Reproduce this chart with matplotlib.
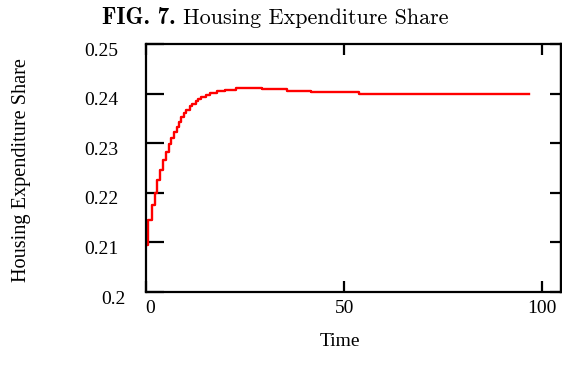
import matplotlib
matplotlib.use("Agg")
import matplotlib.pyplot as plt
from matplotlib.transforms import ScaledTranslation
from matplotlib import font_manager

# ---- data (step function) ----
time = [0, 0.5, 1.4, 2.2, 2.9, 3.6, 4.3, 5.0, 5.8, 6.4, 7.1, 7.7, 8.3, 8.9,
        9.6, 10.2, 11.0, 11.7, 12.5, 13.1, 14.0, 15.1, 16.1, 17.9, 20.0,
        22.8, 29.3, 35.6, 41.6, 53.7, 96.7]
share = [0.2095, 0.2145, 0.2175, 0.2199, 0.2226, 0.2246, 0.2266, 0.2283,
         0.2298, 0.2310, 0.2323, 0.2333, 0.2343, 0.2352, 0.2360, 0.2367,
         0.2374, 0.2379, 0.2385, 0.2389, 0.2394, 0.2397, 0.2401, 0.2405,
         0.2408, 0.2411, 0.2409, 0.2405, 0.2403, 0.2399, 0.2399]

x_ticks = [0, 50, 100]
x_tick_labels = ["0", "50", "100"]
y_ticks = [0.20, 0.21, 0.22, 0.23, 0.24, 0.25]
y_tick_labels = ["0.2", "0.21", "0.22", "0.23", "0.24", "0.25"]

title_bold = "FIG. 7."
title_text = "Housing Expenditure Share"
x_label = "Time"
y_label = "Housing Expenditure Share"

names = {f.name for f in font_manager.fontManager.ttflist}
times_like = [n for n in ['Liberation Serif', 'Times New Roman', 'Nimbus Roman',
                          'DejaVu Serif'] if n in names]
plt.rcParams['font.family'] = 'serif'
plt.rcParams['font.serif'] = times_like

W, H = 562, 367
fig = plt.figure(figsize=(W / 100, H / 100), dpi=100)
ax = fig.add_axes([146 / W, 1 - 292 / H, 414.6 / W, 248 / H])

ax.step(time, share, where='post', color='#ff0000', lw=1.7)

ax.set_xlim(0, 104.6)
ax.set_ylim(0.20, 0.25)

for s in ax.spines.values():
    s.set_linewidth(1.6)
    s.set_color('black')

ax.set_xticks(x_ticks)
ax.set_xticklabels(x_tick_labels, fontsize=14)
ax.set_yticks(y_ticks)
ax.set_yticklabels(y_tick_labels, fontsize=14)
ax.tick_params(axis='x', direction='in', length=8, width=1.6, top=True,
               bottom=True, pad=6)
ax.tick_params(axis='y', direction='in', length=13, width=1.6, left=True,
               right=False, pad=20)

sec = ax.secondary_yaxis('right')
sec.set_yticks(y_ticks)
sec.set_yticklabels([])
sec.tick_params(direction='in', length=8, width=1.6)
sec.spines['right'].set_linewidth(1.6)

# small label offsets as in the reference
dpi_t = fig.dpi_scale_trans
for lab in ax.get_yticklabels():
    dx = 0.07 if lab.get_text() == "0.2" else 0.0
    lab.set_transform(lab.get_transform() + ScaledTranslation(dx, -0.05, dpi_t))
for lab in ax.get_xticklabels():
    if lab.get_text() == "0":
        lab.set_transform(lab.get_transform() + ScaledTranslation(0.045, 0, dpi_t))

fig.text(340 / W, 1 - 346 / H, x_label, ha='center', va='baseline', fontsize=14)
fig.text(21.5 / W, 1 - 170.5 / H, y_label, ha='center', va='center',
         rotation=90, fontsize=14.6)

cm_b = ['cmb10', 'DejaVu Serif']
cm_r = ['cmr10', 'DejaVu Serif']
fig.text(102.3 / W, 1 - 24 / H, title_bold, ha='left', va='baseline',
         family=cm_b, fontsize=16.6)
fig.text(183.3 / W, 1 - 24 / H, title_text, ha='left', va='baseline',
         family=cm_r, fontsize=15.9)

fig.savefig('out.png', dpi=100)
